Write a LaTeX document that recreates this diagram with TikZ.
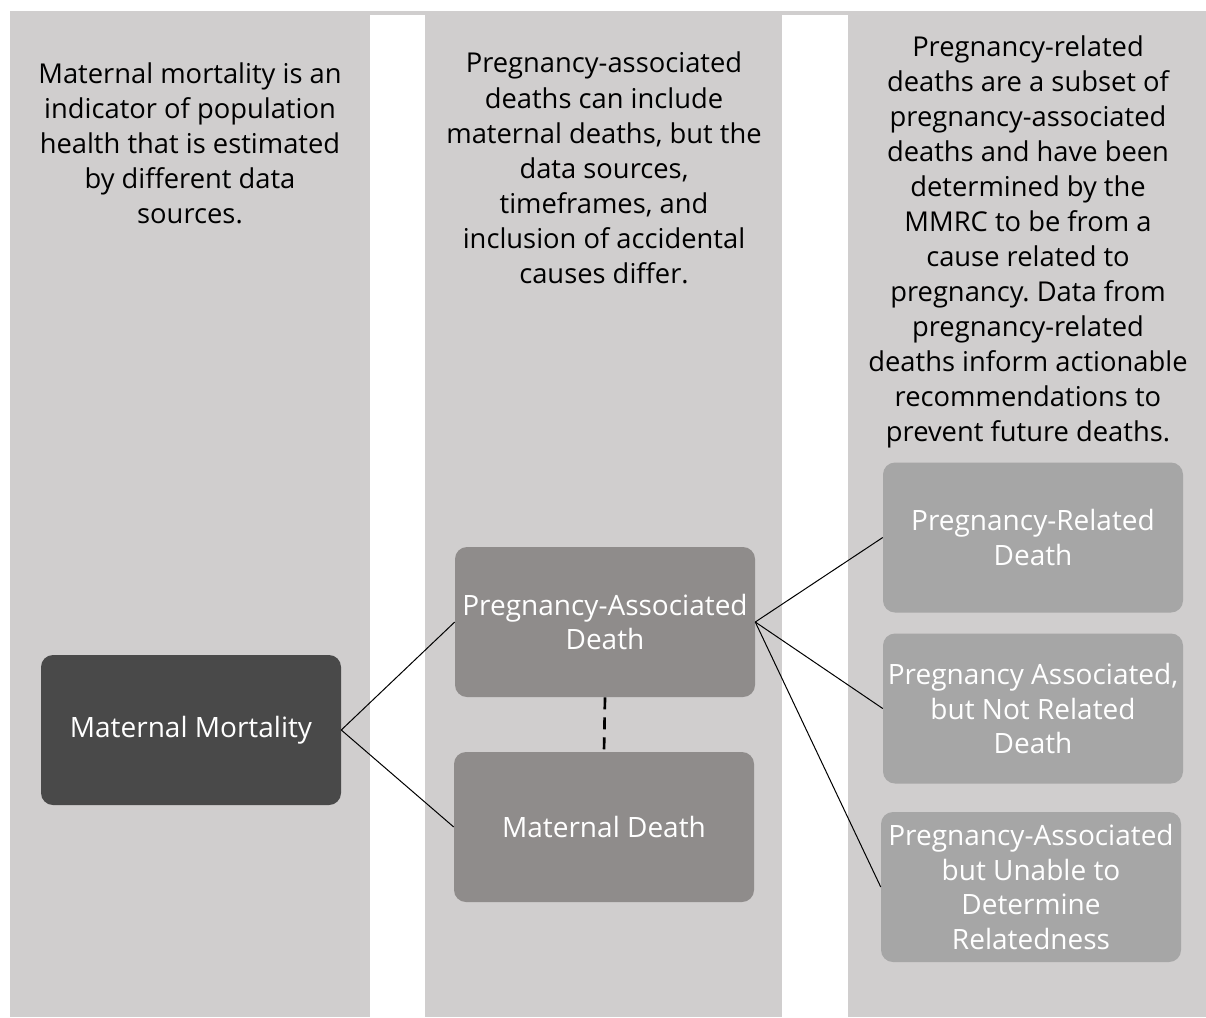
\documentclass[tikz,border=0pt]{standalone}
\usepackage{fontspec}
\setmainfont{Open Sans}
\usetikzlibrary{positioning}
\definecolor{colbg}{HTML}{D0CECE}
\definecolor{mmfill}{HTML}{494949}
\definecolor{midfill}{HTML}{8F8C8B}
\definecolor{rightfill}{HTML}{A6A6A6}
\frenchspacing
\begin{document}
\begin{tikzpicture}[x=0.75pt,y=-0.75pt,
  desc/.style={align=center,inner sep=0pt,anchor=center,text=black,font=\fontsize{20.5}{26.3}\selectfont},
  box/.style={rectangle,rounded corners=9pt,draw=none,text=white,align=center,
     minimum width=225pt,minimum height=112.5pt,inner sep=0pt,font=\fontsize{21}{25.8}\selectfont},
  link/.style={draw=black,line width=0.75pt}]
\useasboundingbox (0,0) rectangle (1206,1017);
\fill[colbg] (10,11) rectangle (1206,1017);
\fill[white] (370,15) rectangle (425,1017);
\fill[white] (782,15) rectangle (848,1017);
% descriptions
\node[desc] (d1) at (190,143) {Maternal mortality is an\\indicator of population\\health that is estimated\\by different data\\sources.};
\node[desc] (d2) at (604,168) {Pregnancy-associated\\deaths can include\\maternal deaths, but the\\data sources,\\timeframes, and\\inclusion of accidental\\causes differ.};
\node[desc] (d3) at (1028,242) {Pregnancy-related\\deaths are a subset of\\pregnancy-associated\\deaths and have been\\determined by the\\MMRC to be from a\\cause related to\\pregnancy. Data from\\pregnancy-related\\deaths inform actionable\\recommendations to\\prevent future deaths.};
% boxes
\node[box,fill=mmfill] (mm) at (191,730) {Maternal Mortality};
\node[box,fill=midfill] (pad) at (605,622) {Pregnancy-Associated\\Death};
\node[box,fill=midfill] (md) at (604,827) {Maternal Death};
\node[box,fill=rightfill] (prd) at (1033,537.5) {Pregnancy-Related\\Death};
\node[box,fill=rightfill] (panr) at (1033,708.5) {Pregnancy Associated,\\but Not Related\\Death};
\node[box,fill=rightfill] (paud) at (1031,887) {Pregnancy-Associated\\but Unable to\\Determine\\Relatedness};
% connectors
\draw[link] (mm.east) -- (pad.west);
\draw[link] (mm.east) -- (md.west);
\draw[link] (pad.east) -- (prd.west);
\draw[link] (pad.east) -- (panr.west);
\draw[link] (pad.east) -- (paud.west);
\draw[black,line width=2pt,dash pattern=on 9pt off 6pt] (pad.south) -- (md.north);
\end{tikzpicture}
\end{document}
